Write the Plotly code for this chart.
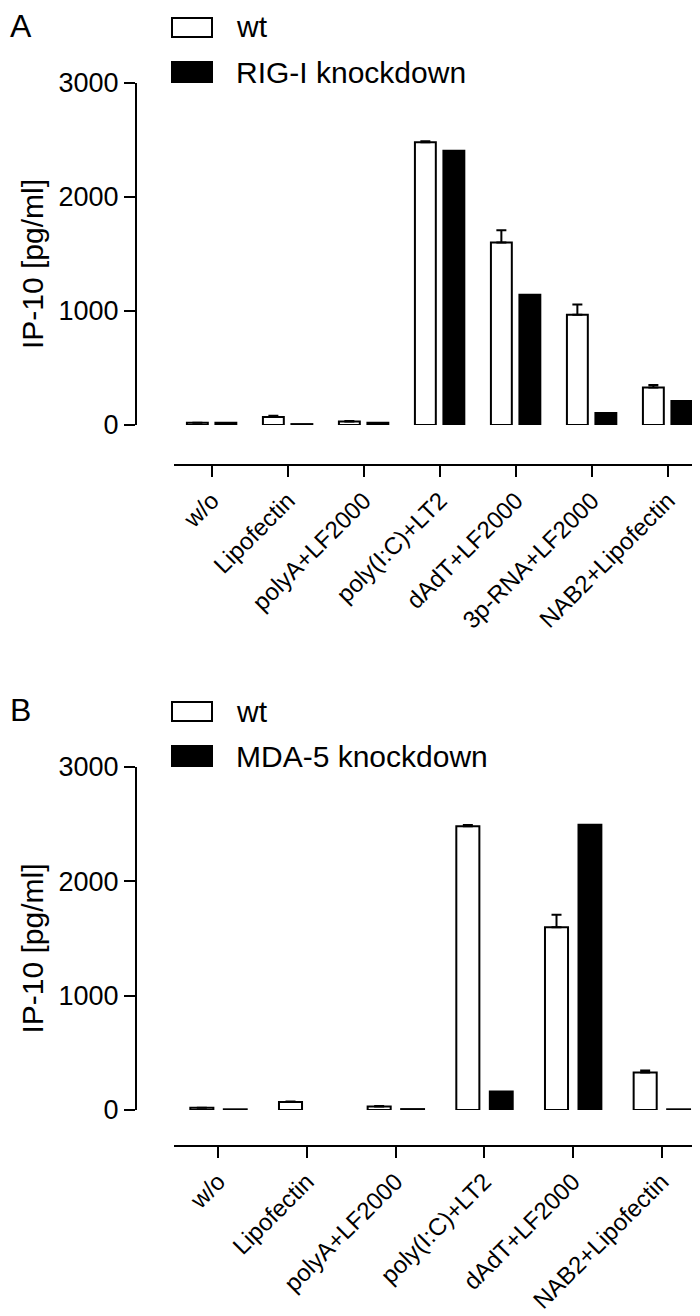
import plotly.graph_objects as go

# Panel A data (IP-10, pg/ml)
cats_a = ["w/o", "Lipofectin", "polyA+LF2000", "poly(I:C)+LT2",
          "dAdT+LF2000", "3p-RNA+LF2000", "NAB2+Lipofectin"]
wt_a = [20, 70, 30, 2480, 1600, 968, 328]
wt_a_err = [0, 12, 6, 10, 108, 88, 22]
rig_kd = [20, 8, 20, 2405, 1143, 106, 210]

# Panel B data (IP-10, pg/ml)
cats_b = ["w/o", "Lipofectin", "polyA+LF2000", "poly(I:C)+LT2",
          "dAdT+LF2000", "NAB2+Lipofectin"]
wt_b = [20, 70, 30, 2482, 1598, 328]
wt_b_err = [0, 5, 6, 10, 110, 18]
mda_kd = [6, None, 8, 161, 2495, 6]

W, H = 700, 1316
FONT = "Liberation Sans, Arial, sans-serif"


def px(x):
    return x / W


def py(y):
    return 1 - y / H


fig = go.Figure()

# panel A bars
fig.add_trace(go.Bar(
    x=cats_a, y=wt_a, name="wt", xaxis="x", yaxis="y",
    offset=-0.33, width=0.275,
    marker={"color": "white", "line": {"color": "black", "width": 2}},
    error_y={"type": "data", "array": wt_a_err, "symmetric": False,
             "arrayminus": [0] * len(wt_a), "color": "black",
             "thickness": 2, "width": 5},
    showlegend=False,
))
fig.add_trace(go.Bar(
    x=cats_a, y=rig_kd, name="RIG-I knockdown", xaxis="x", yaxis="y",
    offset=0.045, width=0.275,
    marker={"color": "black", "line": {"color": "black", "width": 2}},
    showlegend=False,
))

# panel B bars
fig.add_trace(go.Bar(
    x=cats_b, y=wt_b, name="wt", xaxis="x2", yaxis="y2",
    offset=-0.316, width=0.26,
    marker={"color": "white", "line": {"color": "black", "width": 2}},
    error_y={"type": "data", "array": wt_b_err, "symmetric": False,
             "arrayminus": [0] * len(wt_b), "color": "black",
             "thickness": 2, "width": 5},
    showlegend=False,
))
fig.add_trace(go.Bar(
    x=cats_b, y=mda_kd, name="MDA-5 knockdown", xaxis="x2", yaxis="y2",
    offset=0.062, width=0.258,
    marker={"color": "black", "line": {"color": "black", "width": 2}},
    showlegend=False,
))

xaxis_style = {
    "showline": True, "linecolor": "black", "linewidth": 2,
    "ticks": "outside", "ticklen": 11, "tickwidth": 2, "tickcolor": "black",
    "tickangle": -45, "tickfont": {"family": FONT, "size": 24, "color": "black"},
    "showgrid": False, "zeroline": False, "automargin": False,
    "fixedrange": True,
}
yaxis_style = {
    "showline": True, "linecolor": "black", "linewidth": 2,
    "ticks": "outside", "ticklen": 11, "tickwidth": 2, "tickcolor": "black",
    "tickvals": [0, 1000, 2000, 3000], "range": [0, 3000],
    "tickfont": {"family": FONT, "size": 27, "color": "black"},
    "showgrid": False, "zeroline": False, "automargin": False,
    "fixedrange": True,
}

# panel layout: (y of 3000 tick, y of 0 tick, y of x-axis line) in px
panels = [
    ("A", 75, 417, 457, "RIG-I knockdown"),
    ("B", 759, 1102, 1138, "MDA-5 knockdown"),
]

shapes = []
annotations = []
for i, (letter, top, bottom, xline, kd_name) in enumerate(panels):
    sfx = "" if i == 0 else "2"
    fig.update_layout({
        "xaxis" + sfx: dict(xaxis_style, domain=[px(166), px(698)],
                            anchor="free", position=py(xline),
                            range=[-0.5, len(cats_a if i == 0 else cats_b) - 0.5]),
        "yaxis" + sfx: dict(yaxis_style, domain=[py(bottom), py(top)],
                            anchor="free", position=px(128)),
    })
    # legend swatches
    shapes.append(dict(type="rect", xref="paper", yref="paper",
                       x0=px(164), x1=px(204), y0=py(top - 46), y1=py(top - 65),
                       fillcolor="white", line={"color": "black", "width": 2}))
    shapes.append(dict(type="rect", xref="paper", yref="paper",
                       x0=px(163), x1=px(205), y0=py(top), y1=py(top - 22),
                       fillcolor="black", line={"color": "black", "width": 0}))
    annotations += [
        dict(text="wt", x=px(226), y=py(top - 56), xref="paper", yref="paper",
             xanchor="left", yanchor="middle", showarrow=False,
             font={"family": FONT, "size": 30, "color": "black"}),
        dict(text=kd_name, x=px(226), y=py(top - 11), xref="paper", yref="paper",
             xanchor="left", yanchor="middle", showarrow=False,
             font={"family": FONT, "size": 30, "color": "black"}),
        dict(text=letter, x=px(0), y=py(top - 57), xref="paper", yref="paper",
             xanchor="left", yanchor="middle", showarrow=False,
             font={"family": FONT, "size": 32, "color": "black"}),
        dict(text="IP-10 [pg/ml]", x=px(24), y=py((top + bottom) / 2 + 10),
             xref="paper", yref="paper", textangle=-90,
             xanchor="center", yanchor="middle", showarrow=False,
             font={"family": FONT, "size": 30, "color": "black"}),
    ]

fig.update_layout(
    width=W, height=H,
    margin={"l": 0, "r": 0, "t": 0, "b": 0},
    barmode="overlay",
    plot_bgcolor="white", paper_bgcolor="white",
    shapes=shapes, annotations=annotations,
    showlegend=False,
)

fig.write_html("out.html")
